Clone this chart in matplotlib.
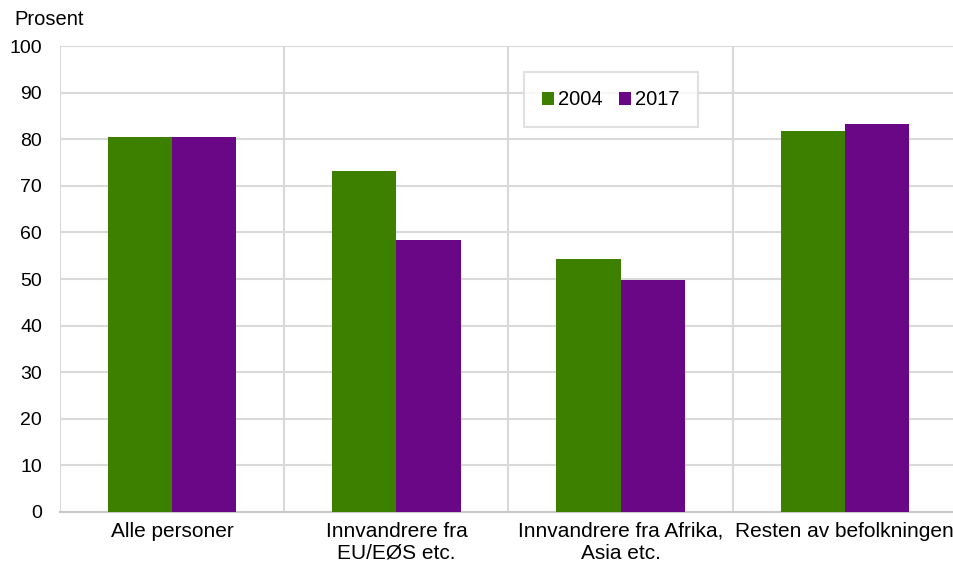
import matplotlib.pyplot as plt
import numpy as np

plt.rcParams['font.family'] = ['Liberation Sans', 'DejaVu Sans']

categories = ['Alle personer', 'Innvandrere fra\nEU/EØS etc.',
              'Innvandrere fra Afrika,\nAsia etc.', 'Resten av befolkningen']
v2004 = [80.5, 73.2, 54.2, 81.7]
v2017 = [80.5, 58.4, 49.8, 83.3]

fig = plt.figure(figsize=(9.54, 5.62), dpi=100)
ax = fig.add_axes([0.063, 0.089, 0.94, 0.829])

x = np.arange(len(categories))
w = 0.286
ax.bar(x - w / 2, v2004, w, color='#3d8000', label='2004', zorder=3)
ax.bar(x + w / 2, v2017, w, color='#6a0787', label='2017', zorder=3)

ax.set_xlim(-0.5, len(categories) - 0.5)
ax.set_ylim(0, 100)
ax.set_yticks(range(0, 101, 10))
ax.set_xticks(x)
ax.set_xticklabels(categories, fontsize=15, linespacing=1.2)
ax.tick_params(axis='y', labelsize=14, length=0, pad=13)
ax.tick_params(axis='x', length=0, pad=7)

# grid lines
ax.yaxis.grid(True, color='#d9d9d9', linewidth=1.5, zorder=0)
for b in np.arange(-0.5, len(categories), 1.0):
    ax.axvline(b, color='#d9d9d9', linewidth=1.5, zorder=0)
for s in ['top', 'right', 'left']:
    ax.spines[s].set_visible(False)
ax.spines['bottom'].set_color('#c8c8c8')
ax.spines['bottom'].set_linewidth(1.5)

leg = ax.legend(loc='upper center', bbox_to_anchor=(0.614, 0.944), ncol=2,
                fontsize=14.5, frameon=True, fancybox=False, handlelength=0.6,
                handleheight=0.6, handletextpad=0.2, columnspacing=0.8,
                borderpad=0.9, borderaxespad=0)
leg.get_frame().set_edgecolor('#d9d9d9')
leg.get_frame().set_linewidth(1.5)

fig.text(0.015, 0.955, 'Prosent', fontsize=14.5)

fig.savefig('out.png', dpi=100)
